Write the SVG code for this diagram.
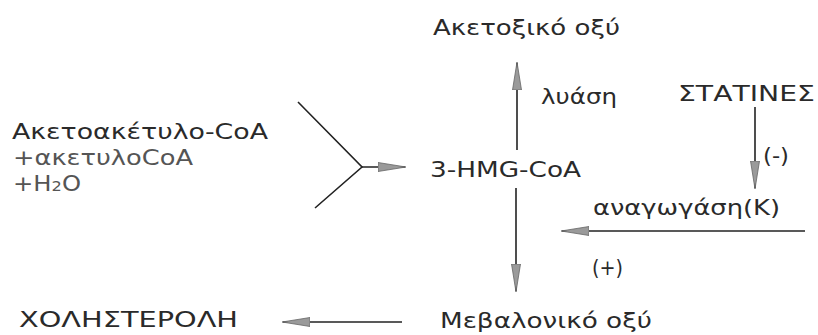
<svg xmlns="http://www.w3.org/2000/svg" width="818" height="335" viewBox="0 0 818 335">
<defs>
<style>
.t{font-family:"DejaVu Sans","Liberation Sans",sans-serif;font-size:21px;fill:#2a2a2a}
.g{fill:#555}
.l{stroke:#222;stroke-width:1.6;fill:none}
.ah{fill:#9a9a9a;stroke:#666;stroke-width:0.8}
</style>
<marker id="arr" viewBox="0 0 28 12" refX="27" refY="6" markerWidth="28" markerHeight="12" markerUnits="userSpaceOnUse" orient="auto">
<path d="M0,1.5 L28,6 L0,10.5 Z" class="ah"/>
</marker>
</defs>
<rect width="818" height="335" fill="#fff"/>
<g id="acetoacetyl">
<text class="t" x="12" y="139" textLength="256" lengthAdjust="spacingAndGlyphs">Ακετοακέτυλο-CoA</text>
<text class="t g" x="13" y="165" textLength="180" lengthAdjust="spacingAndGlyphs">+ακετυλοCoA</text>
<text class="t g" x="13" y="191" textLength="68" lengthAdjust="spacingAndGlyphs">+H<tspan font-size="14">2</tspan>O</text>
</g>
<g id="hmg"><text class="t" x="430" y="177" textLength="151" lengthAdjust="spacingAndGlyphs">3-HMG-CoA</text></g>
<g id="acetoacetic"><text class="t" x="433" y="35" textLength="187" lengthAdjust="spacingAndGlyphs">Ακετοξικό οξύ</text></g>
<g id="statins"><text class="t" x="678" y="101" textLength="137" lengthAdjust="spacingAndGlyphs">ΣΤΑΤΙΝΕΣ</text></g>
<g id="mevalonic"><text class="t" x="440" y="328" textLength="212" lengthAdjust="spacingAndGlyphs">Μεβαλονικό οξύ</text></g>
<g id="cholesterol"><text class="t" x="19" y="327" textLength="219" lengthAdjust="spacingAndGlyphs">ΧΟΛΗΣΤΕΡΟΛΗ</text></g>
<g id="connectors">
<path class="l" d="M298,102 L362,167 L315,208"/>
<line class="l" x1="362" y1="167" x2="405" y2="167" marker-end="url(#arr)"/>
<line class="l" x1="517" y1="150" x2="517" y2="63" marker-end="url(#arr)"/>
<line class="l" x1="516" y1="188" x2="516" y2="291" marker-end="url(#arr)"/>
<line class="l" x1="755" y1="107" x2="755" y2="188" marker-end="url(#arr)"/>
<line class="l" x1="805" y1="231" x2="562" y2="231" marker-end="url(#arr)"/>
<line class="l" x1="402" y1="322" x2="283" y2="322" marker-end="url(#arr)"/>
<text class="t" x="541" y="104" textLength="76" lengthAdjust="spacingAndGlyphs">λυάση</text>
<text class="t" x="763" y="163" textLength="26" lengthAdjust="spacingAndGlyphs">(-)</text>
<text class="t" x="593" y="215" textLength="187" lengthAdjust="spacingAndGlyphs">αναγωγάση(Κ)</text>
<text class="t" x="592" y="275" textLength="31" lengthAdjust="spacingAndGlyphs">(+)</text>
</g>
</svg>
